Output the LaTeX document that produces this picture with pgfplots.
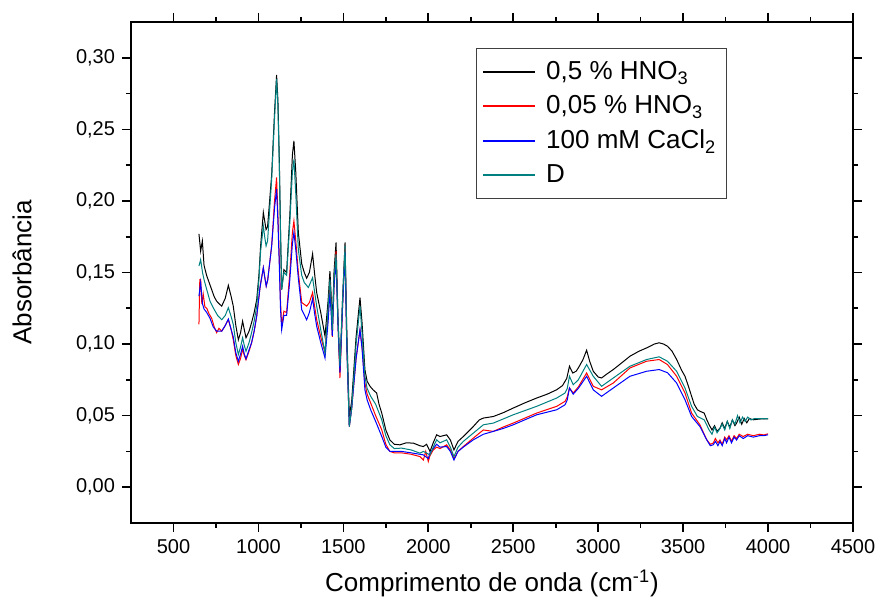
\documentclass[border=0pt]{standalone}
\usepackage{fontspec}
\setmainfont{Liberation Sans}
\usepackage{pgfplots}
\pgfplotsset{compat=1.18}
\usetikzlibrary{calc}
\definecolor{dteal}{RGB}{0,128,128}

\pgfplotstableread{
x y
650 0.177
660 0.165
670 0.172
680 0.155
695 0.148
710 0.143
725 0.138
740 0.133
754 0.130
770 0.128
784 0.1265
805 0.132
823 0.141
840 0.133
852 0.1265
867 0.113
882 0.103
895 0.108
907 0.116
917 0.110
927 0.1044
945 0.109
960 0.115
975 0.122
990 0.131
1003 0.148
1013 0.1685
1029 0.192
1037 0.186
1045 0.180
1054 0.182
1078 0.218
1095 0.262
1107 0.288
1115 0.270
1123 0.229
1130 0.180
1137 0.138
1150 0.152
1166 0.150
1185 0.190
1200 0.232
1209 0.242
1220 0.220
1235 0.178
1255 0.156
1270 0.150
1284 0.146
1300 0.150
1319 0.163
1330 0.150
1343 0.136
1367 0.122
1392 0.1055
1410 0.130
1421 0.151
1428 0.135
1435 0.1125
1445 0.150
1457 0.171
1468 0.120
1480 0.082
1495 0.130
1510 0.171
1520 0.110
1535 0.0495
1549 0.060
1575 0.105
1598 0.1324
1610 0.115
1627 0.082
1640 0.074
1657 0.0705
1675 0.068
1696 0.0658
1710 0.058
1726 0.0518
1750 0.040
1774 0.033
1800 0.030
1833 0.0296
1870 0.031
1912 0.0308
1950 0.029
1971 0.0284
1990 0.030
2010 0.025
2029 0.031
2049 0.0366
2069 0.0354
2108 0.0366
2130 0.033
2151 0.0261
2175 0.032
2206 0.0354
2265 0.0424
2300 0.047
2324 0.0483
2383 0.0494
2440 0.052
2500 0.0553
2570 0.059
2638 0.0623
2700 0.065
2756 0.0681
2790 0.071
2815 0.076
2831 0.0845
2850 0.0798
2870 0.081
2883 0.0833
2910 0.089
2932 0.0957
2950 0.088
2971 0.081
3000 0.077
3020 0.0763
3050 0.079
3089 0.0822
3140 0.087
3187 0.0915
3240 0.095
3285 0.0973
3330 0.100
3359 0.1009
3385 0.100
3408 0.0985
3435 0.095
3462 0.0892
3490 0.082
3511 0.0775
3530 0.071
3550 0.0635
3565 0.058
3584 0.0541
3600 0.053
3624 0.0518
3640 0.047
3653 0.0436
3670 0.040
3685 0.043
3700 0.039
3717 0.0413
3730 0.045
3745 0.041
3760 0.046
3775 0.042
3790 0.047
3805 0.043
3815 0.0448
3830 0.049
3845 0.044
3860 0.048
3875 0.045
3890 0.048
3913 0.0471
3940 0.0475
3970 0.0478
4000 0.0478
}\datablack

\pgfplotstableread{
x y
650 0.1137
655 0.145
660 0.145
667 0.128
675 0.135
685 0.126
696 0.125
710 0.121
725 0.118
740 0.112
754 0.108
768 0.111
784 0.109
800 0.112
823 0.117
840 0.110
852 0.103
867 0.092
882 0.0857
895 0.090
907 0.0962
917 0.092
927 0.089
945 0.095
960 0.1009
975 0.109
990 0.1195
1010 0.140
1029 0.1534
1037 0.147
1046 0.1405
1055 0.145
1078 0.1685
1095 0.200
1107 0.2164
1115 0.190
1123 0.160
1130 0.130
1137 0.1125
1150 0.123
1166 0.122
1185 0.150
1200 0.178
1209 0.186
1220 0.172
1235 0.150
1255 0.129
1284 0.1265
1300 0.129
1319 0.136
1330 0.127
1343 0.117
1367 0.105
1392 0.094
1410 0.120
1421 0.143
1428 0.128
1435 0.105
1445 0.140
1457 0.165
1468 0.115
1480 0.0763
1495 0.125
1510 0.167
1520 0.100
1535 0.0424
1549 0.055
1575 0.090
1598 0.110
1610 0.098
1627 0.0728
1640 0.065
1661 0.0588
1690 0.050
1726 0.0401
1750 0.030
1774 0.025
1800 0.024
1843 0.024
1900 0.023
1951 0.0214
1971 0.019
1985 0.025
2000 0.018
2010 0.022
2029 0.026
2049 0.028
2069 0.027
2108 0.0296
2130 0.026
2151 0.020
2175 0.025
2206 0.0284
2265 0.0343
2324 0.040
2383 0.039
2440 0.042
2500 0.0448
2638 0.0518
2756 0.0565
2805 0.060
2818 0.063
2831 0.0693
2853 0.0658
2883 0.070
2932 0.0798
2971 0.0705
3020 0.068
3089 0.0728
3187 0.0833
3285 0.088
3359 0.0892
3408 0.0857
3462 0.0775
3511 0.0658
3550 0.0518
3599 0.0436
3639 0.0331
3660 0.030
3677 0.0308
3690 0.034
3705 0.031
3717 0.033
3730 0.030
3745 0.035
3756 0.0331
3770 0.036
3785 0.032
3800 0.036
3815 0.034
3830 0.037
3854 0.0354
3880 0.037
3913 0.036
3950 0.037
3975 0.0365
4000 0.0373
}\datared

\pgfplotstableread{
x y
650 0.1335
660 0.143
671 0.128
680 0.1245
696 0.122
715 0.118
734 0.112
754 0.109
784 0.109
805 0.113
823 0.1175
840 0.110
852 0.105
867 0.094
882 0.088
895 0.093
907 0.0985
917 0.093
927 0.0897
945 0.096
960 0.101
975 0.109
990 0.1195
1010 0.140
1029 0.1534
1037 0.147
1046 0.1405
1055 0.145
1078 0.1685
1095 0.195
1107 0.2082
1115 0.185
1123 0.155
1130 0.125
1137 0.110
1150 0.120
1166 0.120
1185 0.145
1200 0.170
1209 0.178
1220 0.166
1235 0.146
1255 0.124
1284 0.117
1300 0.122
1319 0.1317
1330 0.122
1343 0.1125
1367 0.101
1392 0.0903
1410 0.115
1421 0.136
1428 0.122
1435 0.1055
1445 0.140
1457 0.159
1468 0.115
1480 0.080
1495 0.125
1510 0.164
1520 0.100
1535 0.0424
1549 0.055
1575 0.090
1598 0.110
1610 0.097
1627 0.068
1640 0.061
1661 0.054
1690 0.046
1726 0.0355
1750 0.028
1774 0.025
1843 0.025
1900 0.024
1971 0.0226
2000 0.020
2010 0.024
2049 0.030
2069 0.028
2108 0.0284
2130 0.025
2151 0.019
2175 0.025
2206 0.028
2265 0.0331
2324 0.037
2383 0.039
2440 0.041
2500 0.0436
2638 0.0506
2756 0.0541
2805 0.0576
2818 0.061
2831 0.0693
2853 0.065
2883 0.069
2932 0.0775
2971 0.068
3020 0.0635
3089 0.0693
3187 0.0775
3285 0.081
3359 0.0822
3408 0.080
3462 0.0728
3511 0.0611
3550 0.0494
3599 0.0424
3639 0.0331
3660 0.029
3677 0.0296
3690 0.032
3705 0.029
3717 0.032
3730 0.029
3745 0.034
3756 0.031
3770 0.035
3785 0.031
3800 0.035
3815 0.033
3830 0.036
3854 0.034
3880 0.036
3913 0.035
3950 0.036
3975 0.036
4000 0.0366
}\datablue

\pgfplotstableread{
x y
650 0.1545
660 0.159
671 0.150
680 0.145
696 0.138
715 0.130
734 0.1254
760 0.120
784 0.117
805 0.120
823 0.1254
840 0.119
852 0.1137
867 0.101
882 0.0927
895 0.098
907 0.1044
917 0.099
927 0.095
945 0.101
960 0.108
975 0.116
990 0.1265
1003 0.145
1013 0.165
1029 0.1825
1037 0.175
1045 0.1685
1054 0.172
1078 0.215
1095 0.258
1107 0.2853
1115 0.265
1123 0.225
1130 0.178
1137 0.138
1150 0.150
1166 0.148
1185 0.185
1200 0.220
1209 0.229
1220 0.205
1235 0.166
1255 0.148
1270 0.143
1294 0.1395
1319 0.1464
1330 0.137
1343 0.1265
1367 0.110
1392 0.0938
1410 0.125
1421 0.1452
1428 0.130
1435 0.110
1445 0.145
1457 0.1627
1468 0.118
1480 0.0845
1495 0.130
1510 0.1685
1520 0.105
1535 0.0424
1549 0.055
1575 0.100
1598 0.1265
1610 0.108
1627 0.0775
1640 0.069
1661 0.0635
1690 0.058
1726 0.0471
1750 0.036
1774 0.0296
1800 0.027
1843 0.0273
1900 0.026
1951 0.0238
1971 0.025
2010 0.0226
2029 0.028
2049 0.0331
2069 0.031
2108 0.0331
2130 0.028
2151 0.0214
2175 0.028
2206 0.032
2265 0.0378
2324 0.0436
2383 0.0448
2500 0.0506
2638 0.0565
2756 0.0623
2805 0.0658
2818 0.069
2831 0.0775
2853 0.0716
2883 0.075
2932 0.0857
2971 0.0775
3020 0.0705
3089 0.0763
3187 0.0845
3285 0.0892
3359 0.0911
3408 0.088
3462 0.081
3511 0.0693
3550 0.0565
3584 0.0494
3624 0.0471
3653 0.040
3670 0.037
3685 0.042
3700 0.038
3717 0.041
3730 0.044
3745 0.040
3760 0.046
3775 0.041
3790 0.047
3805 0.044
3820 0.050
3835 0.045
3850 0.049
3865 0.046
3880 0.049
3900 0.047
3920 0.048
3950 0.048
3975 0.0478
4000 0.048
}\datateal

\begin{document}
\begin{tikzpicture}
\begin{axis}[
  width=361pt, height=250.5pt, scale only axis,
  xmin=250, xmax=4500, ymin=-0.025, ymax=0.325,
  xtick={500,1000,1500,2000,2500,3000,3500,4000,4500},
  minor x tick num=1,
  ytick={0,0.05,0.1,0.15,0.2,0.25,0.3},
  minor y tick num=1,
  tick align=outside,
  major tick length=4.5pt, minor tick length=2.5pt,
  axis line style={line width=1pt},
  every tick/.style={black, line width=0.8pt},
  /pgf/number format/assume math mode=true,
  xticklabel style={font=\fontsize{10}{12}\selectfont, /pgf/number format/1000 sep={}},
  yticklabel style={font=\fontsize{10}{12}\selectfont, /pgf/number format/.cd, use comma, fixed, fixed zerofill, precision=2},
  xlabel={Comprimento de onda (cm\textsuperscript{-1})},
  ylabel={Absorbância},
  label style={font=\fontsize{13}{15}\selectfont},
  xlabel style={at={(axis description cs:0.5,-0.12)}, anchor=center},
  ylabel style={at={(axis description cs:-0.151,0.5)}, anchor=center},
  legend style={at={(0.478,0.948)}, anchor=north west, draw=black!75, line width=0.5pt,
    font=\fontsize{13}{16}\selectfont, inner xsep=3pt, inner ysep=4.5pt, row sep=2.5pt,
    cells={anchor=west}, /tikz/every odd column/.append style={column sep=3pt}},
]
\addlegendimage{black, line width=0.8pt, legend image code/.code={\draw (0pt,0pt) -- (26pt,0pt);}}
\addlegendentry{0,5 \% HNO\textsubscript{3}}
\addlegendimage{red, line width=0.8pt, legend image code/.code={\draw (0pt,0pt) -- (26pt,0pt);}}
\addlegendentry{0,05 \% HNO\textsubscript{3}}
\addlegendimage{blue, line width=0.8pt, legend image code/.code={\draw (0pt,0pt) -- (26pt,0pt);}}
\addlegendentry{100 mM CaCl\textsubscript{2}}
\addlegendimage{draw=dteal, line width=0.8pt, legend image code/.code={\draw (0pt,0pt) -- (26pt,0pt);}}
\addlegendentry{D}
\addplot[black, line width=0.5pt, forget plot] table {\datablack};
\addplot[red, line width=0.5pt, forget plot] table {\datared};
\addplot[blue, line width=0.5pt, forget plot] table {\datablue};
\addplot[dteal, line width=0.5pt, forget plot] table {\datateal};
\coordinate (bl) at (rel axis cs:0,0);
\coordinate (tr) at (rel axis cs:1,1);
\end{axis}
\pgfresetboundingbox
\path ($(bl)+(-65.5pt,-40.5pt)$) rectangle ($(tr)+(13pt,11pt)$);
\end{tikzpicture}
\end{document}
